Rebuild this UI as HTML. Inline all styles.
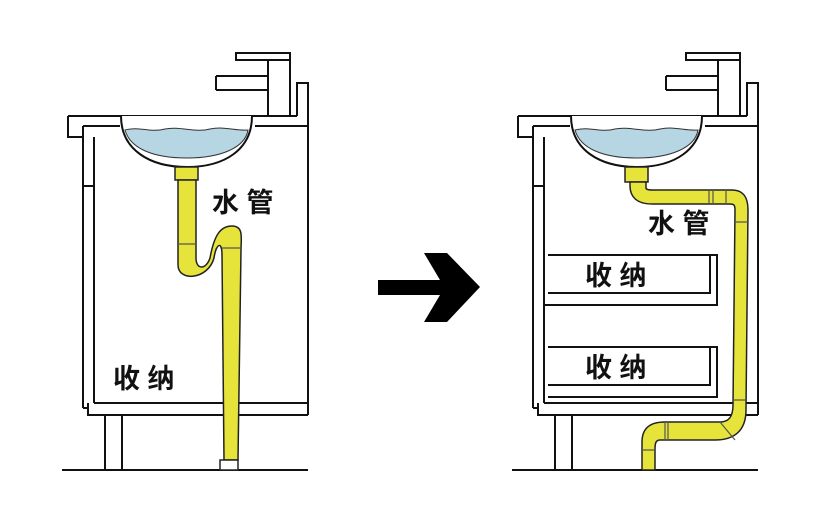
<!DOCTYPE html>
<html><head><meta charset="utf-8"><style>
html,body{margin:0;padding:0;background:#fff;}
svg{display:block}
text{font-family:"Liberation Sans","Noto Sans CJK SC",sans-serif;font-weight:bold;fill:#111;font-size:27px}
</style></head><body>
<svg width="820" height="517" viewBox="0 0 820 517" xmlns="http://www.w3.org/2000/svg">
<defs>
<g id="cab" fill="none" stroke="#111" stroke-width="2">
  <!-- faucet -->
  <path d="M236 53 H290 V60 H236 Z" fill="#fff"/>
  <path d="M268 60 V116 M290 60 V116" />
  <path d="M216 76 H268 M216 90 H268 M216 76 V90"/>
  <!-- backsplash -->
  <path d="M297 116 V83 H308 V415"/>
  <!-- countertop -->
  <path d="M68 116 H297 M68 116 V137 H83 M83 126 H120 M83 126 V137 M255 126 H308"/>
  <!-- cabinet -->
  <path d="M83 137 V408 M94 137 V403 M83 186 H94 M94 403 H308 M83 408 H88 M88 403 V415 H308"/>
  <!-- legs -->
  <path d="M105 415 V470 M122 415 V470"/>
  <path d="M62 470 H308"/>
  <!-- sink -->
  <path d="M121 116 C121 150 150 167 187 167 C224 167 252 150 252 116" fill="#fff"/>
  <path d="M125 130 C140 126 150 133 165 129 C180 126 195 133 210 129 C225 126 235 131 248 130 C245 148 220 158 187 158 C152 158 130 148 125 130 Z" fill="#b7d6e3" stroke="#333" stroke-width="1"/>
</g>
</defs>
<use href="#cab"/>
<use href="#cab" transform="translate(450 0)"/>

<!-- left pipe -->
<g stroke="#222" stroke-width="1.5" fill="#e6e33b">
  <rect x="175" y="167" width="23" height="13"/>
  <path d="M178 180 H196 V258 C196 270 206 270 210 258 C214 236 220 226 232 226 C244 226 241 238 241 250 L238 460 H224 L222 255 C222 240 216 244 214 258 C208 280 178 282 178 265 Z"/>
  <rect x="220" y="460" width="18" height="10" fill="#fff"/>
</g>
<path d="M178 244 H196 M222 248 H240" stroke="#555" stroke-width="1.2"/>

<!-- right pipe -->
<g stroke="#222" stroke-width="1.5" fill="#e6e33b">
  <rect x="625" y="167" width="23" height="15"/>
  <path d="M630 182 H646 V188 C646 190 650 190 655 190 H732 C744 190 748 198 748 210 L746 410 C746 430 735 440 715 440 H660 C655 440 655 445 655 450 V470 H642 V442 C642 428 650 422 665 422 H720 C730 422 733 415 733 405 L735 210 C735 205 734 204 730 204 H652 C636 204 630 196 630 186 Z"/>
</g>
<path d="M709 190 V204 M713 190 V204 M726 190 V204 M735 222 H748 M733 400 H746 M720 422 L735 440 M665 422 V440 M668 422 V440 M642 450 H655" stroke="#555" stroke-width="1.2" fill="none"/>

<!-- drawers -->
<g fill="none" stroke="#111" stroke-width="2">
  <path d="M548 255 H710 V293 H548 M710 255 H717 V305 H548"/>
  <path d="M548 347 H710 V385 H548 M710 347 H717 V397 H548"/>
  <path d="M544 305 H548"/>
</g>

<!-- arrow -->
<path d="M378 280 H440 L424 253 H447 L480 287 L447 322 H424 L440 295 H378 Z" fill="#000"/>

<!-- labels -->
<text x="212" y="212">水 管</text>
<text x="113" y="388">收 纳</text>
<text x="648" y="233">水 管</text>
<text x="585" y="285">收 纳</text>
<text x="585" y="377">收 纳</text>
</svg>
</body></html>
